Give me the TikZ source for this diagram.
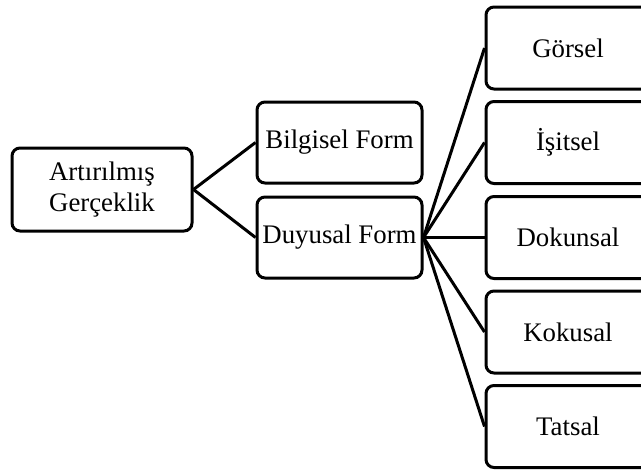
\documentclass[tikz,border=0pt]{standalone}
\usepackage{fontspec}
\setmainfont{Liberation Serif}
\begin{document}
\begin{tikzpicture}[x=0.5pt,y=-0.5pt,
  box/.style={draw=black, line width=1.5pt, rounded corners=4pt, fill=white,
    inner sep=0pt, align=center, font=\fontsize{13.4}{15.5}\selectfont},
  link/.style={draw=black, line width=1.5pt}]
  \clip (0,0) rectangle (641,471);
  \fill[white] (0,0) rectangle (641,471);
  % root and first level
  \node[box, minimum width=90pt, minimum height=41.5pt] (ar) at (102,189.5) {Artırılmış\\Gerçeklik};
  \node[box, minimum width=82.5pt, minimum height=40.5pt] (bil) at (339.5,142.5) {Bilgisel Form};
  \node[box, minimum width=82.5pt, minimum height=40.5pt] (duy) at (339.5,237.5) {Duyusal Form};
  % senses
  \node[box, minimum width=82pt, minimum height=41pt] (gor) at (568,48) {Görsel};
  \node[box, minimum width=82pt, minimum height=41pt] (isi) at (568,142.5) {İşitsel};
  \node[box, minimum width=82pt, minimum height=41pt] (dok) at (568,237.5) {Dokunsal};
  \node[box, minimum width=82pt, minimum height=41pt] (kok) at (568,332) {Kokusal};
  \node[box, minimum width=82pt, minimum height=41pt] (tat) at (568,426.5) {Tatsal};
  % connectors
  \draw[link] (ar.east) -- (bil.west);
  \draw[link] (ar.east) -- (duy.west);
  \foreach \t in {gor,isi,dok,kok,tat}
    \draw[link] (duy.east) -- (\t.west);
\end{tikzpicture}
\end{document}
